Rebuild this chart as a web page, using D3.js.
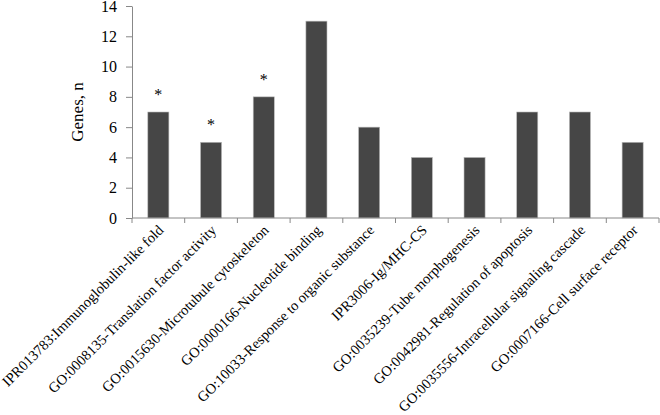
<!DOCTYPE html>
<html>
<head>
<meta charset="utf-8">
<script src="https://cdn.jsdelivr.net/npm/d3@7"></script>
<style>
  body { margin: 0; background: #fff; }
  text { font-family: "Liberation Serif", "Times New Roman", serif; }
</style>
</head>
<body>
<svg id="chart" width="660" height="415"></svg>
<script>
// data
var categories = [
  "IPR013783:Immunoglobulin-like fold",
  "GO:0008135-Translation factor activity",
  "GO:0015630-Microtubule cytoskeleton",
  "GO:0000166-Nucleotide binding",
  "GO:10033-Response to organic substance",
  "IPR3006-Ig/MHC-CS",
  "GO:0035239-Tube morphogenesis",
  "GO:0042981-Regulation of apoptosis",
  "GO:0035556-Intracellular signaling cascade",
  "GO:0007166-Cell surface receptor"
];
var genes = [7, 5, 8, 13, 6, 4, 4, 7, 7, 5];
var starred = [true, true, true, false, false, false, false, false, false, false];
var yTicks = [0, 2, 4, 6, 8, 10, 12, 14];

var svg = d3.select("#chart");
var margin = {top: 6, left: 132, right: 1, bottom: 197};
var width = 660 - margin.left - margin.right;
var height = 415 - margin.top - margin.bottom;

var g = svg.append("g").attr("transform", "translate(" + margin.left + "," + margin.top + ")");

var x = d3.scaleBand()
    .domain(categories)
    .range([0, width])
    .paddingInner(0.6)
    .paddingOuter(0.3);

var y = d3.scaleLinear()
    .domain([0, 14])
    .range([height, 0]);

// bars
g.selectAll(".bar")
  .data(genes)
  .enter()
    .append("rect")
    .attr("class", "bar")
    .attr("x", function(d, i) { return x(categories[i]); })
    .attr("y", function(d) { return y(d); })
    .attr("width", x.bandwidth())
    .attr("height", function(d) { return height - y(d); })
    .style("fill", "#464646")
    .style("stroke", "#bbb")
    .style("stroke-width", 0.6);

// asterisks
g.selectAll(".star")
  .data(genes)
  .enter()
    .filter(function(d, i) { return starred[i]; })
    .append("text")
    .attr("class", "star")
    .attr("x", function(d, i) { return x(categories[i]) + x.bandwidth() / 2; })
    .attr("y", function(d) { return y(d) - 12; })
    .attr("text-anchor", "middle")
    .attr("fill", "#000")
    .style("font-size", "16px")
    .text("*");

// y axis
var yAxis = g.append("g")
    .call(d3.axisLeft(y).tickValues(yTicks).tickSize(6).tickSizeOuter(0).tickPadding(9));
yAxis.select(".domain").attr("stroke", "#888");
yAxis.selectAll(".tick line").attr("stroke", "#888");
yAxis.selectAll(".tick text")
    .style("font-size", "16px")
    .style("font-family", "Liberation Serif")
    .attr("fill", "#000");

// x axis: ticks on category boundaries
var bounds = d3.range(categories.length + 1).map(function(i) {
  return i * x.step();
});
var xAxis = g.append("g").attr("transform", "translate(0," + height + ")");
xAxis.append("line")
    .attr("x1", 0).attr("x2", width)
    .attr("stroke", "#888");
xAxis.selectAll(".btick")
  .data(bounds)
  .enter()
    .append("line")
    .attr("class", "btick")
    .attr("x1", function(d) { return d; })
    .attr("x2", function(d) { return d; })
    .attr("y1", 0).attr("y2", 5)
    .attr("stroke", "#888");

xAxis.selectAll(".xlabel")
  .data(categories)
  .enter()
    .append("text")
    .attr("class", "xlabel")
    .attr("text-anchor", "end")
    .attr("transform", function(d) {
      return "translate(" + (x(d) + x.bandwidth() / 2 + 6) + ",13) rotate(-45)";
    })
    .style("font-size", "14.5px")
    .text(function(d) { return d; });

// y label
svg.append("text")
    .attr("transform", "translate(83," + (margin.top + height / 2) + ") rotate(-90)")
    .attr("text-anchor", "middle")
    .style("font-size", "17px")
    .text("Genes, n");
</script>
</body>
</html>
